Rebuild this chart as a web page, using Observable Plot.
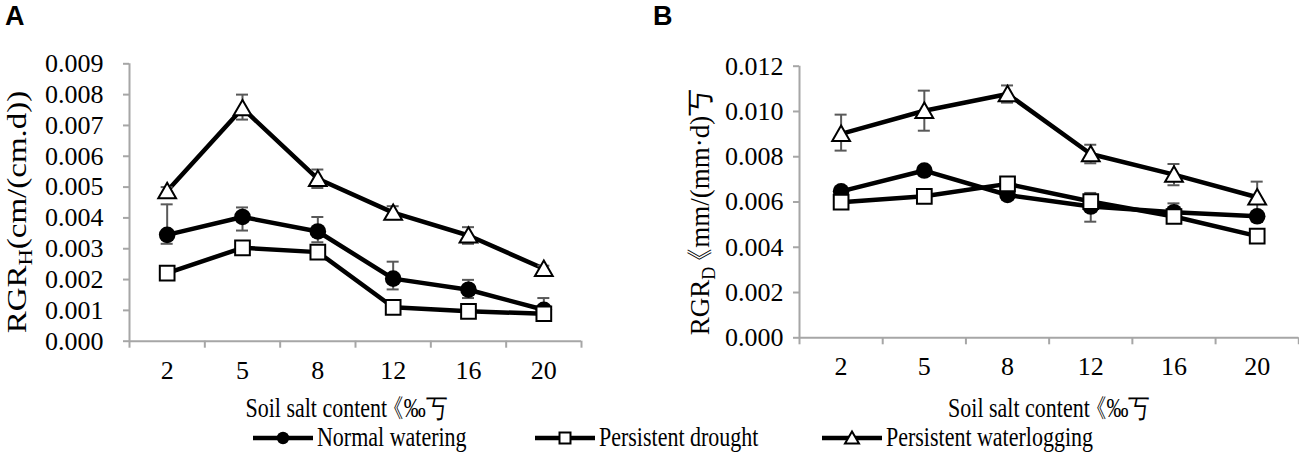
<!DOCTYPE html>
<html><head><meta charset="utf-8">
<script src="https://cdn.jsdelivr.net/npm/d3@7"></script>
<script src="https://cdn.jsdelivr.net/npm/@observablehq/plot@0.6"></script>
<style>
body{margin:0;background:#fff;}
#wrap{position:relative;width:1299px;height:459px;overflow:hidden;background:#fff;}
#wrap svg{position:absolute;top:0;overflow:visible;}
#wrap svg text{font-variant-numeric:normal;}
</style></head><body><div id="wrap"></div>
<script>
// ---- data ----
const salt = ["2","5","8","12","16","20"];
const seriesNames = ["Normal watering","Persistent drought","Persistent waterlogging"];
const xTitleMain = "Soil salt content";
const xTitleUnit = "《‰丂";
const xTitle = xTitleMain + xTitleUnit;

// Panel A: RGR_H
const aNormal   = [0.00345, 0.00403, 0.00356, 0.00203, 0.00167, 0.00102];
const aNormalHi = [0.00444, 0.00434, 0.00403, 0.00258, 0.00199, 0.00140];
const aNormalLo = [0.00316, 0.00359, 0.00321, 0.00168, 0.00140, 0.00070];
const aDrought  = [0.00221, 0.00303, 0.00289, 0.00110, 0.00097, 0.00089];
const aWater    = [0.00487, 0.00756, 0.00527, 0.00417, 0.00343, 0.00235];
const aWaterHi  = [0.00500, 0.00800, 0.00557, 0.00438, 0.00370, 0.00245];
const aWaterLo  = [0.00474, 0.00719, 0.00497, 0.00396, 0.00316, 0.00225];
const aTicks = [0,0.001,0.002,0.003,0.004,0.005,0.006,0.007,0.008,0.009];

// Panel B: RGR_D
const bNormal   = [0.00647, 0.00739, 0.00631, 0.00580, 0.00555, 0.00537];
const bNormalHi = [0.00667, 0.00759, 0.00651, 0.00640, 0.00594, 0.00557];
const bNormalLo = [0.00627, 0.00719, 0.00611, 0.00513, 0.00516, 0.00517];
const bDrought  = [0.00599, 0.00625, 0.00680, 0.00602, 0.00536, 0.00449];
const bWater    = [0.00901, 0.01003, 0.01077, 0.00812, 0.00721, 0.00621];
const bWaterHi  = [0.00986, 0.01092, 0.01115, 0.00853, 0.00768, 0.00690];
const bWaterLo  = [0.00827, 0.00915, 0.01039, 0.00771, 0.00674, 0.00552];
const bTicks = [0,0.002,0.004,0.006,0.008,0.010,0.012];

// ---- drawing ----
const gray = "#a6a6a6", errGray = "#595959";
const serif = "'Liberation Serif','Times New Roman',serif";
const wrap = document.getElementById("wrap");

function rowsFor(vals, his, los) {
  const rows = [];
  seriesNames.forEach((s, k) => vals[k].forEach((v, i) => rows.push({
    series: s, cat: salt[i], x: i + 0.5, y: v,
    hi: his[k] ? his[k][i] : null, lo: los[k] ? los[k][i] : null
  })));
  return rows;
}

function panel(o) {
  const rows = rowsFor(o.vals, o.his, o.los);
  const err = rows.filter(d => d.hi != null);
  const H = 400;
  const bandPx = (o.width - o.ml - o.mr) / salt.length;
  const cap = 6 / bandPx;
  const plot = Plot.plot({
    width: o.width, height: H,
    marginLeft: o.ml, marginRight: o.mr, marginTop: o.mt, marginBottom: H - o.yZero,
    x: {domain: [0, salt.length]},
    y: {domain: [0, o.yMax]},
    style: {fontFamily: serif, fontSize: "22px", color: "black", background: "transparent", overflow: "visible"},
    marks: [
      Plot.axisY({ticks: o.ticks, tickFormat: d3.format(".3f"), tickSize: 6, tickPadding: o.padY,
        stroke: gray, strokeWidth: 2, fill: "black", label: null, fontSize: 26, fontFamily: serif, fontVariant: "normal"}),
      Plot.ruleX(d3.range(0, salt.length + 1), {y1: 0, y2: 0, insetBottom: -7, stroke: gray, strokeWidth: 2}),
      Plot.axisX({ticks: salt.map((d, i) => i + 0.5), tickSize: 0, tickPadding: 19,
        tickFormat: d => salt[Math.floor(d)], fill: "black", label: null, fontSize: 26, fontFamily: serif, fontVariant: "normal"}),
      Plot.ruleX([0], {stroke: gray, strokeWidth: 2}),
      Plot.ruleY([0], {stroke: gray, strokeWidth: 2}),
      Plot.line(rows, {x: "x", y: "y", z: "series", stroke: "black", strokeWidth: 4.5}),
      Plot.ruleX(err, {x: "x", y1: "lo", y2: "hi", stroke: errGray, strokeWidth: 2}),
      Plot.ruleY(err, {y: "hi", x1: d => d.x - cap, x2: d => d.x + cap, stroke: errGray, strokeWidth: 2}),
      Plot.ruleY(err, {y: "lo", x1: d => d.x - cap, x2: d => d.x + cap, stroke: errGray, strokeWidth: 2}),
      Plot.dot(rows.filter(d => d.series === seriesNames[0]), {x: "x", y: "y", symbol: "circle", r: 8.3, fill: "black"}),
      Plot.dot(rows.filter(d => d.series === seriesNames[1]), {x: "x", y: "y", symbol: "square", r: 8.3, fill: "white", stroke: "black", strokeWidth: 2}),
      Plot.dot(rows.filter(d => d.series === seriesNames[2]), {x: "x", y: "y", symbol: "triangle", r: 6.6, dy: 2, fill: "white", stroke: "black", strokeWidth: 2}),
      Plot.text([xTitle], {frameAnchor: "bottom", dx: o.titleDx, dy: o.titleDy, lineAnchor: "middle", fontSize: 22, fontFamily: serif, fill: "black"})
    ]
  });
  plot.style.left = o.left + "px";
  const svg = d3.select(plot);
  // x title: tighten the full-width bracket like the reference
  svg.selectAll("text").filter(function() { return this.textContent === xTitle; }).each(function() {
    const el = d3.select(this).classed("stretch", true);
    el.text(null);
    el.append("tspan").text(xTitleMain);
    el.append("tspan").attr("dx", -5).text(xTitleUnit);
  });
  // rotated y title with subscript
  const t = svg.append("text")
    .attr("transform", `translate(${o.ytx},${o.yty}) rotate(-90) scale(${o.ys},1)`)
    .attr("text-anchor", "middle").attr("font-family", serif).attr("font-size", o.yfs).attr("fill", "black");
  t.append("tspan").text("RGR");
  t.append("tspan").attr("font-size", Math.round(o.yfs * 0.68)).attr("dy", o.yfs * 0.22).text(o.sub);
  if (o.unit.startsWith("《")) {
    t.append("tspan").attr("dy", -o.yfs * 0.22).attr("dx", -o.yfs * 0.3).text(o.unit);
  } else {
    t.append("tspan").attr("dy", -o.yfs * 0.22).text(o.unit);
  }
  // panel letter
  svg.append("text").attr("x", o.letterX).attr("y", 25).attr("text-anchor", "start")
    .attr("font-family", "'Liberation Sans',Arial,sans-serif").attr("font-weight", "bold")
    .attr("font-size", 27).attr("fill", "black").text(o.letter);
  wrap.appendChild(plot);
  return plot;
}

panel({vals: [aNormal, aDrought, aWater], his: [aNormalHi, null, aWaterHi], los: [aNormalLo, null, aWaterLo],
  yMax: 0.009, ticks: aTicks, left: 0, width: 650, ml: 129, mr: 69, mt: 63.3, yZero: 340.7, padY: 20,
  titleDx: -9, titleDy: 67, ytx: 26, yty: 212, yfs: 28, ys: 1.18, sub: "H", unit: "(cm/(cm.d))", letter: "A", letterX: 5});
panel({vals: [bNormal, bDrought, bWater], his: [bNormalHi, null, bWaterHi], los: [bNormalLo, null, bWaterLo],
  yMax: 0.012, ticks: bTicks, left: 650, width: 649, ml: 149, mr: 0.7, mt: 65.7, yZero: 337.3, padY: 10,
  titleDx: 0, titleDy: 71, ytx: 59, yty: 212, yfs: 27, ys: 1.0, sub: "D", unit: "《mm/(mm·d)丂", letter: "B", letterX: 3});

// legend
const leg = d3.select(wrap).append("svg").attr("width", 1299).attr("height", 459).style("left", "0px");
const legX = [253, 535, 822];
const symbols = [d3.symbolCircle, d3.symbolSquare, d3.symbolTriangle];
seriesNames.forEach((s, k) => {
  const g = leg.append("g").attr("transform", `translate(${legX[k]},438)`);
  g.append("line").attr("x1", 0).attr("x2", 60).attr("stroke", "black").attr("stroke-width", 4.5);
  const r = k === 2 ? 5.2 : 6.2;
  g.append("path").attr("transform", `translate(30,${k === 2 ? 1.5 : 0})`)
    .attr("d", d3.symbol(symbols[k], Math.PI * r * r)())
    .attr("fill", k === 0 ? "black" : "white").attr("stroke", k === 0 ? "none" : "black").attr("stroke-width", 2);
  g.append("text").attr("class", "stretch").attr("x", 64).attr("y", 0).attr("dy", "0.32em")
    .attr("font-family", serif).attr("font-size", 22).attr("fill", "black").text(s);
});

// vertical stretch of selected texts to match the reference's tall glyphs
wrap.querySelectorAll("text.stretch").forEach(t => {
  const tr = t.getAttribute("transform") || "";
  const xa = t.getAttribute("x") || "0", ya = t.getAttribute("y") || "0";
  const xs = xa.endsWith("em") ? 0 : +xa, ys = ya.endsWith("em") ? 0 : +ya;
  t.setAttribute("transform", `${tr} translate(${xs},${ys}) scale(1,1.2) translate(${-xs},${-ys})`);
});
</script></body></html>
